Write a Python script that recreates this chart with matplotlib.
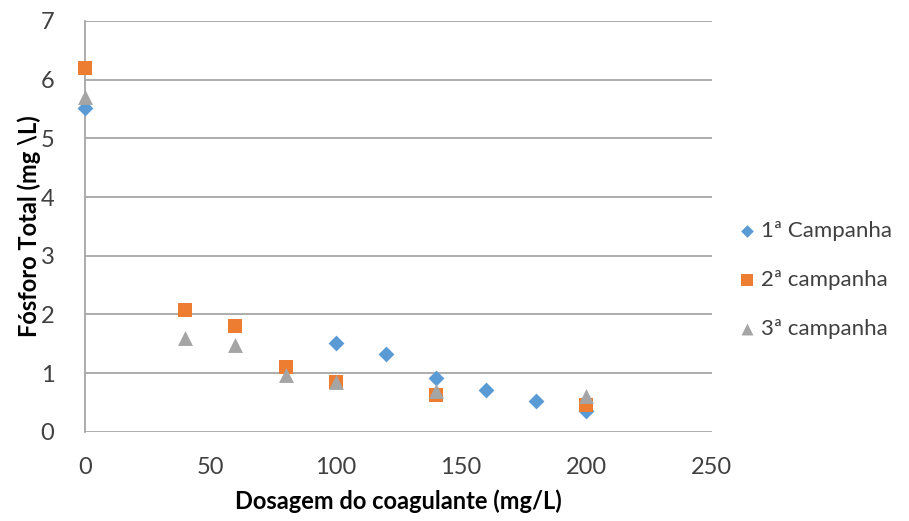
import matplotlib
matplotlib.use("Agg")
import matplotlib.pyplot as plt

x1 = [0, 100, 120, 140, 160, 180, 200]
y1 = [5.52, 1.52, 1.33, 0.92, 0.72, 0.53, 0.36]
x2 = [0, 40, 60, 80, 100, 140, 200]
y2 = [6.2, 2.08, 1.8, 1.1, 0.85, 0.63, 0.45]
x3 = [0, 40, 60, 80, 100, 140, 200]
y3 = [5.7, 1.6, 1.48, 0.97, 0.85, 0.7, 0.62]
labels = ["1ª Campanha", "2ª campanha", "3ª campanha"]

plt.rcParams['font.family'] = ['Lato', 'DejaVu Sans']
fig = plt.figure(figsize=(9.09, 5.21), dpi=100)
ax = fig.add_axes([0.0935, 0.171, 0.6895, 0.789])

ax.scatter(x1, y1, marker='D', s=65, color='#5B9BD5', label=labels[0], zorder=3, linewidths=0, clip_on=False)
ax.scatter(x2, y2, marker='s', s=115, color='#ED7D31', label=labels[1], zorder=3, linewidths=0, clip_on=False)
ax.scatter(x3, y3, marker='^', s=115, color='#A5A5A5', label=labels[2], zorder=4, linewidths=0, clip_on=False)

ax.set_xlim(0, 250)
ax.set_ylim(0, 7)
ax.set_xticks([0, 50, 100, 150, 200, 250])
ax.set_yticks(range(0, 8))
ax.grid(axis='y', color='#A6A6A6', linewidth=1.3)
ax.set_axisbelow(True)
for s in ['top', 'right', 'bottom']:
    ax.spines[s].set_visible(False)
ax.spines['left'].set_color('#A6A6A6')
ax.spines['left'].set_linewidth(1.3)
ax.tick_params(length=0, labelsize=17, colors='#404040', pad=22)
ax.tick_params(axis='x', pad=18)

ax.set_xlabel('Dosagem do coagulante (mg/L)', fontsize=17, fontweight='bold', labelpad=8)
ax.set_ylabel('Fósforo Total (mg \\L)', fontsize=17, fontweight='bold', labelpad=0)

leg = ax.legend(loc='center left', bbox_to_anchor=(1.025, 0.37), frameon=False,
                fontsize=16, labelspacing=1.3, handletextpad=0.1, borderaxespad=0,
                markerscale=0.8, handlelength=1.0)
for t in leg.get_texts():
    t.set_color('#404040')

fig.savefig('out.png', dpi=100)
